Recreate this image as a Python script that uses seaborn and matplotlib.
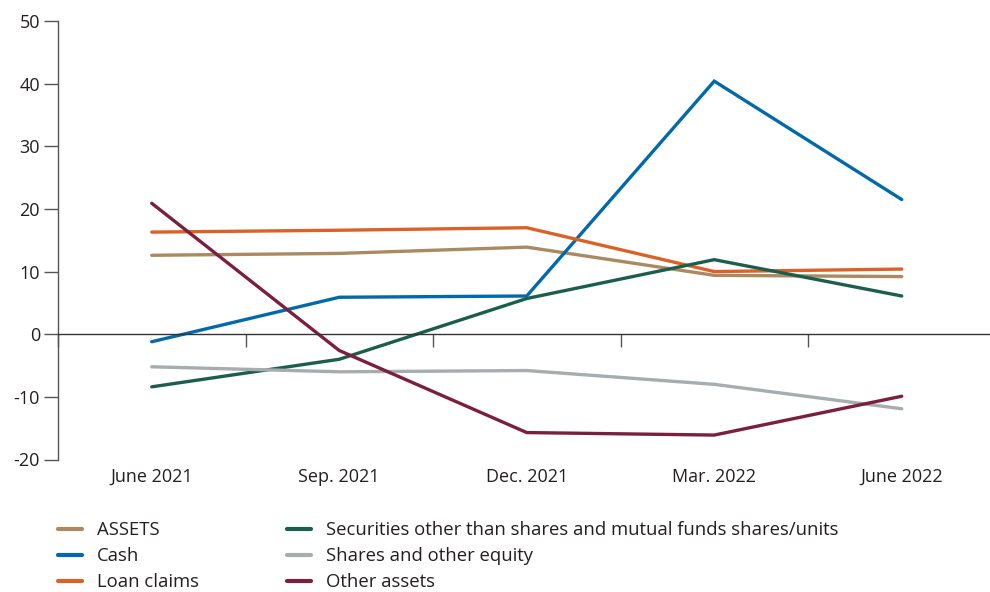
import matplotlib
matplotlib.use("Agg")
import matplotlib.pyplot as plt
import seaborn as sns
import pandas as pd

# Quarterly periods and the series plotted against them
periods = ["June 2021", "Sep. 2021", "Dec. 2021", "Mar. 2022", "June 2022"]
assets = [12.6, 12.9, 13.9, 9.4, 9.2]
cash = [-1.2, 5.9, 6.1, 40.4, 21.5]
loan_claims = [16.3, 16.6, 17.0, 10.0, 10.4]
securities = [-8.4, -4.0, 5.7, 11.9, 6.1]
shares_equity = [-5.2, -6.0, -5.8, -8.0, -11.9]
other_assets = [20.9, -2.6, -15.7, -16.1, -9.9]

series_names = [
    "ASSETS",
    "Cash",
    "Loan claims",
    "Securities other than shares and mutual funds shares/units",
    "Shares and other equity",
    "Other assets",
]
series_values = [assets, cash, loan_claims, securities, shares_equity, other_assets]
series_colors = ["#A98A62", "#0069AA", "#DA6228", "#1B5E4C", "#A7ACAF", "#7A1F3D"]

y_ticks = [-20, -10, 0, 10, 20, 30, 40, 50]

rows = []
for name, vals in zip(series_names, series_values):
    for i, (p, v) in enumerate(zip(periods, vals)):
        rows.append({"pos": i, "period": p, "series": name, "value": v})
df = pd.DataFrame(rows)

sns.set_theme(style="white")
plt.rcParams["font.family"] = ["Open Sans", "DejaVu Sans"]
text_color = "#231F20"

fig = plt.figure(figsize=(9.9, 5.92), dpi=100)
W, H = 990, 592
left, right, top, bottom = 58, 995.5, 21, 459.5
ax = fig.add_axes([left / W, 1 - bottom / H, (right - left) / W, (bottom - top) / H])

sns.lineplot(
    data=df, x="pos", y="value", hue="series", hue_order=series_names,
    palette=dict(zip(series_names, series_colors)), sort=False,
    linewidth=2.4, ax=ax, legend=True,
)
for line in ax.lines:
    line.set_solid_joinstyle("miter")
    line.set_solid_capstyle("round")

ax.set_xlim(-0.5, 4.5)
ax.set_ylim(-20, 50)
ax.set_xlabel("")
ax.set_ylabel("")

# Y axis
ax.set_yticks(y_ticks)
ax.set_yticklabels([str(t) for t in y_ticks])
ax.tick_params(axis="y", direction="out", length=10, width=1, color="#555555",
               labelsize=13, labelcolor=text_color, pad=3, left=True)
ax.spines["left"].set_color("#555555")
ax.spines["left"].set_linewidth(1)

# X axis line at zero with ticks at period boundaries
ax.spines["bottom"].set_position(("data", 0))
ax.spines["bottom"].set_color("#333333")
ax.spines["bottom"].set_linewidth(1)
ax.spines["top"].set_visible(False)
ax.spines["right"].set_visible(False)
ax.set_xticks([-0.5, 0.5, 1.5, 2.5, 3.5])
ax.set_xticklabels([])
ax.tick_params(axis="x", direction="out", length=9, width=1, color="#555555", bottom=True)

# Period labels along the bottom of the plot area
sec = ax.secondary_xaxis(0)
sec.set_xticks(range(len(periods)))
sec.set_xticklabels(periods)
sec.tick_params(axis="x", length=0, labelsize=13, labelcolor=text_color, pad=6)
sec.spines["bottom"].set_visible(False)

handles, labels = ax.get_legend_handles_labels()
ax.get_legend().remove()
for h in handles:
    h.set_linewidth(3.0)
    h.set_solid_capstyle("round")
fig.legend(
    handles, labels, ncol=2, loc="upper left",
    bbox_to_anchor=(58 / W, 1 - 521 / H), frameon=False,
    fontsize=13.3, labelcolor=text_color, handlelength=1.3, handletextpad=0.8,
    columnspacing=4.8, labelspacing=0.44, borderpad=0, borderaxespad=0,
)

fig.savefig("out.png", dpi=100)
